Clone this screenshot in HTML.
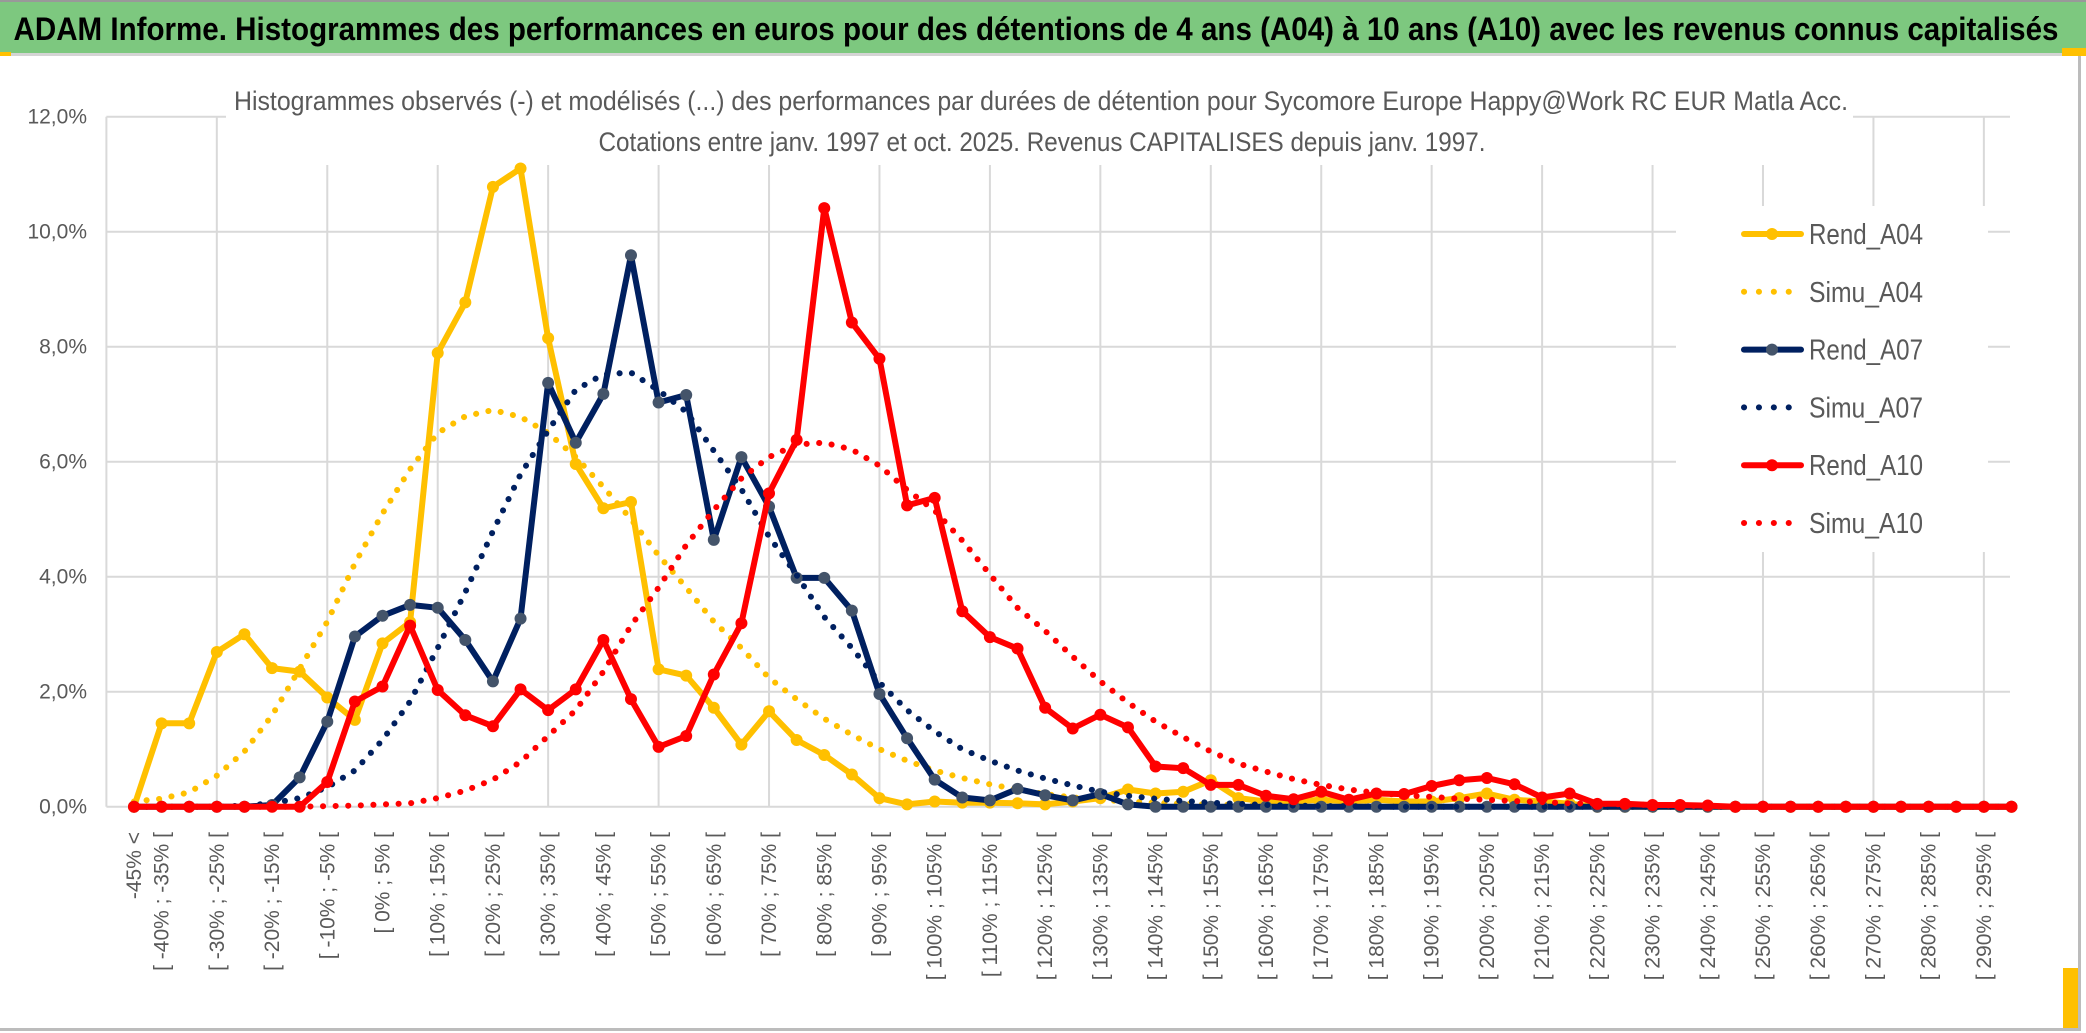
<!DOCTYPE html>
<html><head><meta charset="utf-8"><style>
html,body{margin:0;padding:0;background:#fff;}
svg{display:block;font-family:"Liberation Sans",Arial,sans-serif;}
</style></head><body>
<svg id="chart" width="2086" height="1033" viewBox="0 0 2086 1033">
  <rect x="0" y="0" width="2086" height="1033" fill="#fff"/>
  <rect x="0" y="0" width="2086" height="54" fill="#7DC87F"/>
  <rect x="0" y="0" width="2086" height="2" fill="#999"/>
  <rect x="0" y="53" width="2078" height="3" fill="#d4d4d4"/>
  <rect x="0" y="52" width="11" height="4" fill="#FFC000"/>
  <rect x="2062" y="48" width="24" height="8" fill="#FFC000"/>
  <rect x="2078" y="56" width="3" height="975" fill="#bcbcbc"/>
  <rect x="0" y="1028" width="2081" height="3" fill="#bcbcbc"/>
  <rect x="2063" y="968" width="15" height="60" fill="#FFC000"/>
  <text x="1036" y="40" font-size="32" font-weight="bold" fill="#000" text-anchor="middle" textLength="2045" lengthAdjust="spacingAndGlyphs">ADAM Informe. Histogrammes des performances en euros pour des détentions de 4 ans (A04) à 10 ans (A10) avec les revenus connus capitalisés</text>
  <g id="grid"></g>
  <rect x="226" y="100" width="1627" height="65" fill="#fff"/>
  <text x="1041" y="110" font-size="27" fill="#595959" text-anchor="middle" textLength="1614" lengthAdjust="spacingAndGlyphs">Histogrammes observés (-) et modélisés (...) des performances par durées de détention pour Sycomore Europe Happy@Work RC EUR Matla Acc.</text>
  <text x="1042" y="151" font-size="27" fill="#595959" text-anchor="middle" textLength="887" lengthAdjust="spacingAndGlyphs">Cotations entre janv. 1997 et oct. 2025. Revenus CAPITALISES depuis janv. 1997.</text>
  <g id="yaxis"></g>
  <g id="xaxis"></g>
  <g id="series"></g>
  <g id="legend"></g>
</svg>
<script>
const categories = ["-45% <"];
const binStarts = [-40,-35,-30,-25,-20,-15,-10,-5,0,5,10,15,20,25,30,35,40,45,50,55,60,65,70,75,80,85,90,95,100,105,110,115,120,125,130,135,140,145,150,155,160,165,170,175,180,185,190,195,200,205,210,215,220,225,230,235,240,245,250,255,260,265,270,275,280,285,290,295];
const yTicks = [0,2,4,6,8,10,12];
const yTickLabels = ["0,0%","2,0%","4,0%","6,0%","8,0%","10,0%","12,0%"];
const rendA04 = [0,1.45,1.45,2.69,3.0,2.41,2.35,1.9,1.51,2.84,3.21,7.89,8.77,10.78,11.1,8.15,5.96,5.19,5.3,2.39,2.28,1.72,1.08,1.66,1.16,0.9,0.56,0.15,0.04,0.09,0.07,0.07,0.06,0.04,0.09,0.15,0.3,0.23,0.26,0.46,0.15,0.09,0.09,0.12,0.09,0.12,0.09,0.09,0.15,0.23,0.12,0.09,0.05,0,0,0,0,0,0,0,0,0,0,0,0,0,0,0,0];
const simuA04 = [0.09,0.14,0.25,0.54,0.96,1.59,2.4,3.22,4.23,5.1,5.87,6.5,6.79,6.9,6.78,6.5,6.08,5.56,5.0,4.37,3.81,3.22,2.76,2.24,1.87,1.53,1.25,1.0,0.8,0.63,0.5,0.39,0.3,0.22,0.16,0.12,0.09,0.07,0.05,0.04,0.03,0.02,0.02,0.01,0.01,0,0,0,0,0,0,0,0,0,0,0,0,0,0,0,0,0,0,0,0,0,0,0,0];
const rendA07 = [0,0,0,0,0,0.03,0.51,1.48,2.96,3.32,3.51,3.46,2.9,2.18,3.27,7.37,6.33,7.18,9.59,7.03,7.16,4.64,6.08,5.22,3.98,3.98,3.41,1.96,1.19,0.47,0.16,0.11,0.31,0.2,0.11,0.22,0.04,0,0,0,0,0,0,0,0,0,0,0,0,0,0,0,0,0,0,0,0,0,0,0,0,0,0,0,0,0,0,0,0];
const simuA07 = [0,0,0,0,0.02,0.06,0.15,0.34,0.63,1.16,1.83,2.76,3.73,4.79,5.78,6.54,7.25,7.52,7.55,7.24,6.87,6.19,5.52,4.7,4.03,3.3,2.76,2.16,1.68,1.31,1.0,0.8,0.63,0.49,0.37,0.26,0.19,0.14,0.1,0.07,0.05,0.03,0.02,0.01,0.01,0,0,0,0,0,0,0,0,0,0,0,0,0,0,0,0,0,0,0,0,0,0,0,0];
const rendA10 = [0,0,0,0,0,0,0,0.43,1.83,2.09,3.15,2.03,1.59,1.4,2.04,1.68,2.04,2.9,1.87,1.04,1.23,2.3,3.19,5.45,6.38,10.41,8.42,7.79,5.24,5.37,3.4,2.95,2.75,1.72,1.36,1.6,1.38,0.7,0.67,0.38,0.38,0.19,0.13,0.26,0.12,0.23,0.22,0.36,0.46,0.5,0.39,0.16,0.23,0.05,0.05,0.03,0.03,0.02,0,0,0,0,0,0,0,0,0,0,0];
const simuA10 = [0,0,0,0,0,0,0,0.01,0.02,0.04,0.06,0.15,0.28,0.47,0.78,1.23,1.68,2.35,3.15,3.81,4.55,5.16,5.71,6.08,6.3,6.33,6.21,5.93,5.51,5.15,4.63,4.04,3.46,3.06,2.61,2.18,1.81,1.48,1.21,0.96,0.75,0.61,0.48,0.38,0.3,0.24,0.2,0.17,0.14,0.12,0.1,0.08,0.06,0.05,0.04,0.03,0.02,0.01,0,0,0,0,0,0,0,0,0,0,0];

for (const b of binStarts) categories.push("[ " + b + "% ; " + (b + 5) + "% [");

const NS = "http://www.w3.org/2000/svg";
const X0 = 134, DX = 27.61, Y0 = 806.7, PX_PER = 57.5;
const PLOT_L = 106.4, PLOT_R = 2010, PLOT_T = 116.7;
function xPos(i){ return X0 + i * DX; }
function yPos(v){ return Y0 - v * PX_PER; }
function mk(tag, attrs){ const e = document.createElementNS(NS, tag); for (const k in attrs) e.setAttribute(k, attrs[k]); return e; }

const grid = document.getElementById("grid");
for (let t = 0; t < yTicks.length; t++) {
  const l = mk("line", {x1: PLOT_L, x2: PLOT_R, y1: yPos(yTicks[t]), y2: yPos(yTicks[t]), stroke: "#d9d9d9", "stroke-width": 2});
  
  
  grid.appendChild(l);
}
for (let i = -1; i < categories.length; i += 4) {
  const gx = xPos(i);
  const l = mk("line", {x1: gx, x2: gx, y1: PLOT_T, y2: Y0, stroke: "#d9d9d9", "stroke-width": 2});
  
  
  grid.appendChild(l);
}

const ya = document.getElementById("yaxis");
for (let t = 0; t < yTicks.length; t++) {
  const tx = mk("text", {x: 87, y: yPos(yTicks[t]) + 7, "font-size": 21, fill: "#595959", "text-anchor": "end"});
  tx.textContent = yTickLabels[t];
  
  
  ya.appendChild(tx);
}

const xa = document.getElementById("xaxis");
for (let i = 0; i < categories.length; i++) {
  if (!(i === 0 || i % 2 === 1)) continue;
  const cx = xPos(i) + 7;
  const tx = mk("text", {x: cx, y: 832, "font-size": 21, fill: "#595959", "text-anchor": "end", transform: "rotate(-90 " + cx + " 832)"});
  tx.textContent = categories[i];
  
  
  xa.appendChild(tx);
}

const sg = document.getElementById("series");
function pts(arr){ return arr.map((v,i) => xPos(i).toFixed(1) + "," + yPos(v).toFixed(1)).join(" "); }
function drawRend(arr, color, markerColor, name){
  const g = mk("g", {});
  
  
  const pl = mk("polyline", {points: pts(arr), fill: "none", stroke: color, "stroke-width": 6, "stroke-linejoin": "round"});
  
  
  g.appendChild(pl);
  for (let i = 0; i < arr.length; i++) {
    const c = mk("circle", {cx: xPos(i), cy: yPos(arr[i]), r: 6, fill: markerColor});
    
    
    g.appendChild(c);
  }
  sg.appendChild(g);
}
function drawSimu(arr, color, name){
  const pl = mk("polyline", {points: pts(arr), fill: "none", stroke: color, "stroke-width": 6, "stroke-linecap": "round", "stroke-dasharray": "0.1 12.5"});
  
  
  sg.appendChild(pl);
}
drawRend(rendA04, "#FFC000", "#FFC000", "rend-a04");
drawSimu(simuA04, "#FFC000", "simu-a04");
drawRend(rendA07, "#002060", "#44546A", "rend-a07");
drawSimu(simuA07, "#002060", "simu-a07");
drawRend(rendA10, "#FF0000", "#FF0000", "rend-a10");
drawSimu(simuA10, "#FF0000", "simu-a10");

const lg = document.getElementById("legend");
const bg = mk("rect", {x: 1676, y: 206, width: 312, height: 346, fill: "#fff"});


lg.appendChild(bg);
const legendNames = ["Rend_A04","Simu_A04","Rend_A07","Simu_A07","Rend_A10","Simu_A10"];
const legendColors = ["#FFC000","#FFC000","#002060","#002060","#FF0000","#FF0000"];
const legendMarkers = ["#FFC000",null,"#44546A",null,"#FF0000",null];
for (let k = 0; k < legendNames.length; k++) {
  const ly = 234 + k * 57.8;
  const g = mk("g", {});
  
  
  if (legendMarkers[k]) {
    g.appendChild(mk("line", {x1: 1744, x2: 1801, y1: ly, y2: ly, stroke: legendColors[k], "stroke-width": 6, "stroke-linecap": "round"}));
    g.appendChild(mk("circle", {cx: 1772, cy: ly, r: 6, fill: legendMarkers[k]}));
  } else {
    g.appendChild(mk("line", {x1: 1744, x2: 1801, y1: ly, y2: ly, stroke: legendColors[k], "stroke-width": 6, "stroke-linecap": "round", "stroke-dasharray": "0.1 14.8"}));
  }
  const tx = mk("text", {x: 1809, y: ly + 10, "font-size": 29, fill: "#595959", textLength: 114, lengthAdjust: "spacingAndGlyphs"});
  tx.textContent = legendNames[k];
  g.appendChild(tx);
  lg.appendChild(g);
}
</script>
</body></html>
